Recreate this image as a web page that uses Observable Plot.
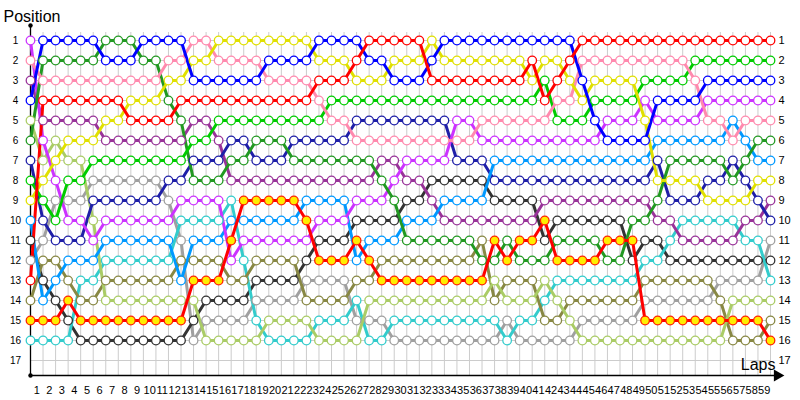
<!DOCTYPE html>
<html><head><meta charset="utf-8">
<script src="https://cdn.jsdelivr.net/npm/d3@7"></script>
<script src="https://cdn.jsdelivr.net/npm/@observablehq/plot@0.6"></script>
<style>body{margin:0;background:#fff;}</style>
</head><body><div id="chart"></div>
<script>
// columns: 0 = grid, 1..59 = end of each lap
const columns = d3.range(0, 60);
const lapLabels = d3.range(1, 60);
const positions = d3.range(1, 18);

const red       = [13,4,4,4,4,4,4,4,5,5, 5,5,4,4,4,4,4,4,4,4, 4,4,4,3,3,3,2,1,1,1, 1,1,3,3,3,3,3,3,3,3, 2,4,3,2,1,1,1,1,1,1, 1,1,1,1,1,1,1,1,1,1];
const yellow    = [9,8,7,6,6,6,5,5,4,4, 4,3,3,2,2,1,1,1,1,1, 1,1,1,2,2,2,3,3,3,2, 2,2,1,2,2,2,2,2,2,2, 3,2,2,3,4,3,3,3,3,5, 8,8,8,8,9,9,9,9,8,8];
const blue      = [4,1,1,1,1,1,2,2,2,1, 1,1,1,3,3,3,3,3,3,2, 2,2,2,1,1,1,1,2,2,3, 3,3,2,1,1,1,1,1,1,1, 1,1,1,1,3,5,6,6,6,6, 4,4,4,4,3,3,3,3,3,3];
const pink      = [2,3,3,3,3,3,3,3,3,3, 3,2,2,1,1,2,2,2,2,3, 3,3,3,4,5,5,6,6,6,6, 6,6,6,6,6,6,5,5,5,5, 5,5,4,4,2,2,2,2,2,2, 2,2,2,3,5,5,6,5,5,5];
const green     = [8,9,10,8,8,7,7,7,7,7, 7,7,7,6,6,5,5,5,5,5, 5,5,5,5,4,4,4,4,4,4, 4,4,4,4,4,4,4,4,4,4, 4,3,5,5,5,4,4,4,4,3, 3,3,3,2,2,2,2,2,2,2];
const darkGreen = [6,2,2,2,2,2,1,1,1,2, 2,4,5,8,8,8,7,7,6,6, 6,7,7,7,7,7,7,7,8,9, 11,11,11,11,11,11,12,12,11,12, 12,12,11,11,11,11,12,12,10,10, 9,7,7,7,7,7,8,7,6,6];
const violet    = [1,6,8,10,10,11,10,10,10,10, 10,10,9,9,9,9,12,11,11,11, 11,11,11,10,10,10,9,9,9,8, 7,7,7,7,5,5,6,6,6,6, 6,6,6,6,6,6,5,5,5,4, 5,5,5,5,4,4,4,4,4,4];
const plum      = [3,5,5,5,5,5,6,6,6,6, 6,6,6,5,5,6,8,8,8,8, 8,8,8,8,8,8,8,8,7,7, 8,8,9,10,10,10,10,10,10,10, 10,9,9,9,9,9,9,9,9,9, 10,10,11,11,11,11,11,10,10,9];
const navy      = [7,10,11,11,11,9,9,9,9,9, 9,8,8,7,7,7,6,6,7,7, 7,6,6,6,6,6,5,5,5,5, 5,5,5,5,7,7,7,8,8,8, 8,8,8,8,8,8,8,8,8,8, 7,9,9,9,8,8,7,8,9,10];
const skyBlue   = [10,14,13,12,12,12,11,11,11,11, 11,11,13,11,11,11,10,10,10,10, 10,10,9,9,9,9,12,11,11,11, 10,10,10,9,9,9,9,7,7,7, 7,7,7,7,7,7,7,7,7,7, 6,6,6,6,6,6,5,6,7,7];
const charcoal  = [11,13,14,15,16,16,16,16,16,16, 16,16,16,15,14,14,14,14,13,13, 13,13,12,11,11,11,10,10,10,10, 9,9,8,8,8,8,8,9,9,9, 9,11,10,10,10,10,10,10,12,11, 11,12,12,12,12,12,12,12,12,12];
const gray      = [12,11,9,9,9,8,8,8,8,8, 8,9,11,16,15,15,15,15,14,14, 14,14,13,13,13,13,15,15,15,16, 16,16,16,16,16,16,16,16,15,16, 16,16,16,16,15,15,15,15,15,14, 14,14,14,14,14,13,13,13,13,11];
const teal      = [16,16,16,16,13,13,12,12,12,12, 12,12,10,10,10,10,9,12,15,16, 16,16,16,15,15,15,14,16,16,15, 15,15,15,15,15,15,15,15,16,15, 15,14,13,13,13,13,13,13,13,12, 12,11,10,10,10,10,10,11,11,13];
const olive     = [14,12,12,13,14,14,13,13,13,13, 13,13,12,12,12,12,13,13,12,12, 12,12,14,14,14,14,13,13,12,12, 12,12,12,12,12,12,11,14,13,13, 13,15,15,14,14,14,14,14,14,13, 13,13,13,13,13,14,16,16,16,15];
const lime      = [5,7,6,7,7,10,14,14,14,14, 14,14,14,14,16,16,16,16,16,15, 15,15,15,16,16,16,16,14,14,14, 14,14,14,14,14,14,14,13,14,14, 14,13,14,15,16,16,16,16,16,16, 16,16,16,16,16,16,14,14,14,14];
const featured  = [15,15,15,14,15,15,15,15,15,15, 15,15,15,13,13,13,11,9,9,9, 9,9,10,12,12,12,11,12,13,13, 13,13,13,13,13,13,13,11,12,11, 11,10,12,12,12,12,11,11,11,15, 15,15,15,15,15,15,15,15,15,16];

const driverNames = ["gray","charcoal","teal","olive","lime","plum","navy","skyBlue","violet","darkGreen","green","pink","yellow","blue","red"];
const series = {red, yellow, blue, pink, green, darkGreen, violet, plum, navy, skyBlue, charcoal, gray, teal, olive, lime, featured};
const colors = {
  red: "#ff0000", yellow: "#e0e000", blue: "#0000ff", pink: "#ff8aae", green: "#00cc00",
  darkGreen: "#229922", violet: "#cc33ff", plum: "#993399", navy: "#1f1fa8", skyBlue: "#0099ff",
  charcoal: "#333333", gray: "#a0a0a0", teal: "#33cccc", olive: "#888844", lime: "#aacc66",
  featured: "#ff0000"
};

const toRows = name => series[name].map((p, i) => ({driver: name, lap: columns[i], pos: p}));
const mainRows = driverNames.flatMap(toRows);
const featRows = toRows("featured");

const chart = Plot.plot({
  width: 800, height: 400,
  marginLeft: 30, marginRight: 30, marginTop: 40, marginBottom: 40,
  x: {domain: [0, 59]},
  y: {domain: [1, 17], range: [40, 360]},
  color: {type: "identity"},
  style: {fontFamily: "'Liberation Sans', Arial, sans-serif", background: "white", overflow: "visible", color: "#000"},
  marks: [
    Plot.ruleX(columns, {x: d => d, y1: 0.6, y2: 17.75, stroke: "#cccccc", strokeWidth: 1}),
    Plot.ruleY(positions, {y: d => d, x1: 0, x2: 59, stroke: "#cccccc", strokeWidth: 1}),
    Plot.ruleY([17.75], {x1: 0, x2: 59.4, stroke: "#000", strokeWidth: 1.3}),
    Plot.ruleX([0], {y1: 0.25, y2: 17.75, stroke: "#000", strokeWidth: 1.3}),
    Plot.dot([59.55], {x: d => d, y: 17.75, symbol: "triangle", rotate: 90, r: 4.5, fill: "#000", stroke: "none"}),
    Plot.dot([0.25, 17.75], {x: 0, y: d => d, r: 2.2, fill: "#000", stroke: "none"}),
    Plot.line(mainRows, {x: "lap", y: "pos", z: "driver", stroke: d => colors[d.driver], strokeWidth: 3, curve: "linear"}),
    Plot.dot(mainRows, {x: "lap", y: "pos", r: 4.3, fill: "white", stroke: d => colors[d.driver], strokeWidth: 1.3}),
    Plot.line(featRows, {x: "lap", y: "pos", stroke: colors.featured, strokeWidth: 3, curve: "linear"}),
    Plot.dot(featRows, {x: "lap", y: "pos", r: 4.3, fill: "#ffee00", stroke: "#ff2200", strokeWidth: 1.3}),
    Plot.axisX({ticks: lapLabels.map(k => k - 0.5), tickFormat: d => String(Math.round(d + 0.5)), tickSize: 0, tickPadding: 26, fontSize: 11, label: null}),
    Plot.axisY({anchor: "left", ticks: positions, tickSize: 0, tickPadding: 15, textAnchor: "middle", fontSize: 10, label: null}),
    Plot.axisY({anchor: "right", ticks: positions, tickSize: 0, tickPadding: 8, fontSize: 11, label: null}),
    Plot.text(["Position"], {frameAnchor: "top-left", dx: -27, dy: -30, textAnchor: "start", lineAnchor: "top", fontSize: 16, fill: "#000"}),
    Plot.text(["Laps"], {frameAnchor: "bottom-right", dx: 5, dy: 4, textAnchor: "end", lineAnchor: "middle", fontSize: 16, fill: "#000"})
  ]
});
document.getElementById("chart").appendChild(chart);
</script>
</body></html>
